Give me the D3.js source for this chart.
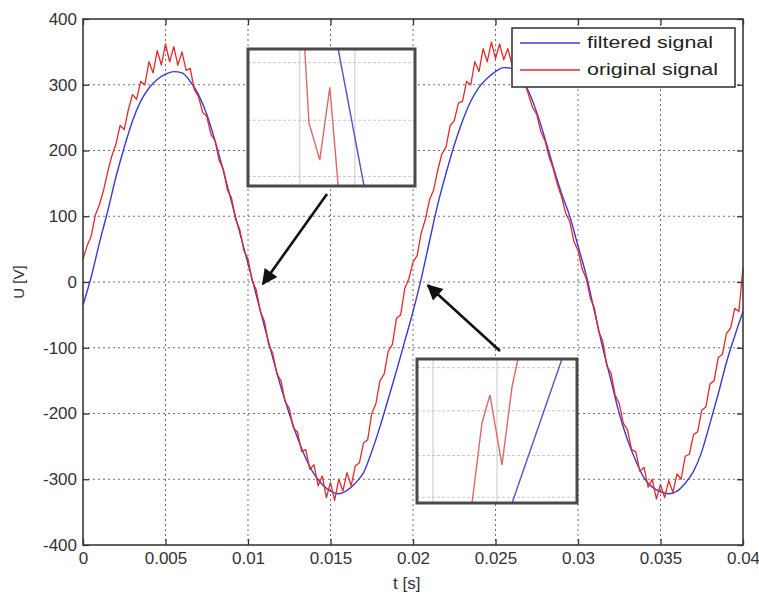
<!DOCTYPE html>
<html>
<head>
<meta charset="utf-8">
<script src="https://cdn.jsdelivr.net/npm/d3@7"></script>
<style>
  body { margin: 0; background: #fff; }
  svg { display: block; font-family: "Liberation Sans", Arial, sans-serif; }
</style>
</head>
<body>
<div id="chart"></div>
<script>
// time step of the sampled curves (s)
const filteredStep = 0.0005;
const originalStep = 0.00025;

// filtered signal, U [V], every 0.5 ms from 0 to 0.04 s
const filtered = [
  -35, 8, 60, 108, 160, 205, 245, 275, 295, 308,
  316, 320, 318, 305, 285, 255, 215, 170, 122, 75,
  28, -20, -68, -115, -160, -200, -237, -268, -292, -308,
  -318, -322, -317, -306, -290, -258, -220, -178, -135, -90,
  -45, 5, 62, 118, 165, 208, 245, 275, 296, 310,
  320, 326, 325, 312, 290, 258, 218, 175, 135, 100,
  55, 10, -45, -100, -150, -200, -240, -272, -298, -312,
  -319, -322, -318, -306, -288, -258, -215, -170, -122, -82,
  -45
];

// original (noisy) signal, U [V], every 0.25 ms from 0 to 0.04 s
const original = [
  35, 55, 70, 102, 118, 140, 168, 192, 210, 238,
  232, 262, 285, 278, 305, 300, 335, 318, 352, 330,
  362, 335, 358, 330, 350, 322, 325, 292, 282, 258,
  252, 225, 215, 185, 172, 140, 128, 95, 80, 48,
  35, 2, -12, -45, -60, -95, -108, -140, -150, -182,
  -192, -222, -228, -258, -255, -285, -278, -310, -295, -328,
  -305, -332, -300, -318, -290, -310, -280, -275, -245, -240,
  -200, -185, -150, -140, -105, -95, -55, -50, -10, 5,
  30, 40, 75, 95, 125, 140, 170, 195, 205, 238,
  245, 272, 275, 305, 300, 335, 320, 355, 335, 365,
  340, 362, 338, 355, 330, 345, 318, 305, 285, 265,
  255, 228, 215, 190, 172, 148, 130, 105, 92, 62,
  48, 20, 5, -25, -40, -75, -90, -128, -138, -172,
  -185, -215, -225, -255, -258, -288, -282, -312, -300, -330,
  -308, -328, -302, -320, -292, -300, -265, -262, -232, -228,
  -195, -190, -155, -150, -115, -110, -78, -70, -40, -45,
  22
];

const xTicks = [0, 0.005, 0.01, 0.015, 0.02, 0.025, 0.03, 0.035, 0.04];
const xTickLabels = ["0", "0.005", "0.01", "0.015", "0.02", "0.025", "0.03", "0.035", "0.04"];
const yTicks = [-400, -300, -200, -100, 0, 100, 200, 300, 400];

const seriesNames = ["filtered signal", "original signal"];
const seriesColors = ["#3b3bd2", "#e42a2a"];

// zoomed insets, in inset units (0..100 each way)
const inset1RedX = [34, 36.5, 43, 49, 54];
const inset1RedY = [100, 46, 19, 72, 0];
const inset1BlueX = [54, 69.5];
const inset1BlueY = [100, 0];
const inset1GridX = [31, 64];
const inset1GridY = [7, 48, 90];

const inset2RedX = [34.4, 40.6, 45.6, 53.1, 59.4, 63.1];
const inset2RedY = [0, 55.6, 75, 26.4, 80.6, 100];
const inset2BlueX = [59.4, 90.6];
const inset2BlueY = [0, 100];
const inset2GridX = [10, 50];
const inset2GridY = [4, 33, 64, 94];

const width = 759, height = 594;
const margin = { top: 19, right: 16, bottom: 49, left: 83 };

const svg = d3.select("#chart").append("svg")
  .attr("width", width)
  .attr("height", height);

const x = d3.scaleLinear().domain([0, 0.04]).range([margin.left, width - margin.right]);
const y = d3.scaleLinear().domain([-400, 400]).range([height - margin.bottom, margin.top]);

// dotted grid
const grid = svg.append("g").attr("stroke", "#707070").attr("stroke-width", 1)
  .attr("stroke-dasharray", "2,3");
grid.selectAll("line.gx").data(xTicks.slice(1, -1)).enter().append("line")
  .attr("x1", d => x(d)).attr("x2", d => x(d))
  .attr("y1", y(400)).attr("y2", y(-400));
grid.selectAll("line.gy").data(yTicks.slice(1, -1)).enter().append("line")
  .attr("x1", x(0)).attr("x2", x(0.04))
  .attr("y1", d => y(d)).attr("y2", d => y(d));

// curves
const line = step => d3.line().x((d, i) => x(i * step)).y(d => y(d));

svg.append("path").datum(filtered)
  .attr("fill", "none").attr("stroke", seriesColors[0]).attr("stroke-width", 1.4)
  .attr("d", line(filteredStep).curve(d3.curveMonotoneX));

svg.append("path").datum(original)
  .attr("fill", "none").attr("stroke", seriesColors[1]).attr("stroke-width", 1.3)
  .attr("stroke-linejoin", "round")
  .attr("d", line(originalStep));

// axes, ticks inward like matlab
const axisFont = 17;
svg.append("g").attr("transform", `translate(0,${y(-400)})`)
  .call(d3.axisBottom(x).tickValues(xTicks).tickSize(-6).tickPadding(7)
    .tickFormat((d, i) => xTickLabels[i]));
svg.append("g").attr("transform", `translate(0,${y(400)})`)
  .call(d3.axisTop(x).tickValues(xTicks).tickSize(-6).tickFormat(""));
svg.append("g").attr("transform", `translate(${x(0)},0)`)
  .call(d3.axisLeft(y).tickValues(yTicks).tickSize(-6).tickPadding(6)
    .tickFormat(d => String(d)));
svg.append("g").attr("transform", `translate(${x(0.04)},0)`)
  .call(d3.axisRight(y).tickValues(yTicks).tickSize(-6).tickFormat(""));

svg.selectAll(".domain").remove();
svg.selectAll(".tick line").attr("stroke", "#333").attr("stroke-width", 1.3);
svg.selectAll(".tick text").attr("font-size", axisFont).attr("fill", "#333");

svg.append("rect")
  .attr("x", x(0)).attr("y", y(400))
  .attr("width", x(0.04) - x(0)).attr("height", y(-400) - y(400))
  .attr("fill", "none").attr("stroke", "#3a3a3a").attr("stroke-width", 1.6);

// axis titles
svg.append("text").attr("x", 393).attr("y", 589)
  .attr("font-size", 17).attr("fill", "#333").text("t [s]");
svg.append("text").attr("transform", "translate(24,282) rotate(-90)")
  .attr("text-anchor", "middle").attr("font-size", 15).attr("fill", "#333").text("U [V]");

// insets
function inset(box, redX, redY, blueX, blueY, gx, gy) {
  const ix = d3.scaleLinear().domain([0, 100]).range([box.x, box.x + box.w]);
  const iy = d3.scaleLinear().domain([0, 100]).range([box.y + box.h, box.y]);
  const g = svg.append("g");
  g.append("rect").attr("x", box.x).attr("y", box.y).attr("width", box.w).attr("height", box.h)
    .attr("fill", "#fff");
  g.selectAll("line.vx").data(gx).enter().append("line")
    .attr("x1", d => ix(d)).attr("x2", d => ix(d)).attr("y1", box.y).attr("y2", box.y + box.h)
    .attr("stroke", "#c8c8c8").attr("stroke-width", 1);
  g.selectAll("line.vy").data(gy).enter().append("line")
    .attr("y1", d => iy(d)).attr("y2", d => iy(d)).attr("x1", box.x).attr("x2", box.x + box.w)
    .attr("stroke", "#c8c8c8").attr("stroke-width", 1).attr("stroke-dasharray", "3,2");
  const l = d3.line().x(d => ix(d[0])).y(d => iy(d[1]));
  g.append("path").datum(d3.zip(blueX, blueY)).attr("d", l)
    .attr("fill", "none").attr("stroke", "#5555c8").attr("stroke-width", 1.4);
  g.append("path").datum(d3.zip(redX, redY)).attr("d", l)
    .attr("fill", "none").attr("stroke", "#d86a6a").attr("stroke-width", 1.4);
  g.append("rect").attr("x", box.x).attr("y", box.y).attr("width", box.w).attr("height", box.h)
    .attr("fill", "none").attr("stroke", "#4a4a4a").attr("stroke-width", 3);
}

inset({ x: 248, y: 49, w: 167, h: 137 }, inset1RedX, inset1RedY, inset1BlueX, inset1BlueY, inset1GridX, inset1GridY);
inset({ x: 417, y: 359, w: 160, h: 144 }, inset2RedX, inset2RedY, inset2BlueX, inset2BlueY, inset2GridX, inset2GridY);

// arrows pointing at the zero crossings
svg.append("defs").append("marker")
  .attr("id", "head").attr("viewBox", "0 0 10 10").attr("refX", 9).attr("refY", 5)
  .attr("markerWidth", 8).attr("markerHeight", 6).attr("orient", "auto")
  .attr("markerUnits", "strokeWidth")
  .append("path").attr("d", "M0,0L10,5L0,10z").attr("fill", "#111");

svg.append("line")
  .attr("x1", 327).attr("y1", 194).attr("x2", x(0.0109)).attr("y2", y(-3))
  .attr("stroke", "#111").attr("stroke-width", 2.6).attr("marker-end", "url(#head)");
svg.append("line")
  .attr("x1", 500).attr("y1", 351).attr("x2", x(0.0209)).attr("y2", y(-5))
  .attr("stroke", "#111").attr("stroke-width", 2.6).attr("marker-end", "url(#head)");

// legend
const legend = svg.append("g");
legend.append("rect").attr("x", 512).attr("y", 28).attr("width", 223).attr("height", 59)
  .attr("fill", "#fff").attr("stroke", "#3a3a3a").attr("stroke-width", 1.6);
seriesNames.forEach((name, i) => {
  const ly = 43 + i * 27;
  legend.append("line").attr("x1", 520).attr("x2", 580).attr("y1", ly).attr("y2", ly)
    .attr("stroke", seriesColors[i]).attr("stroke-width", 1.4);
  legend.append("text").attr("x", 587).attr("y", ly + 5)
    .attr("font-size", 16).attr("fill", "#222")
    .attr("textLength", i === 0 ? 126 : 131).attr("lengthAdjust", "spacingAndGlyphs")
    .text(name);
});
</script>
</body>
</html>
